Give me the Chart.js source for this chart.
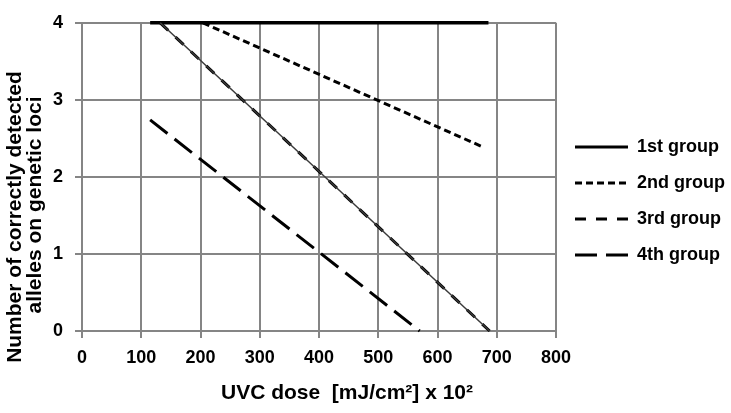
<!DOCTYPE html>
<html lang="en">
<head>
  <meta charset="UTF-8">
  <title>UVC dose vs detected alleles</title>
  <script src="https://cdn.jsdelivr.net/npm/chart.js"></script>
  <style>
    body {
      margin: 0;
      background: #fff;
    }
    #chart {
      display: block;
    }
  </style>
</head>
<body>
  <canvas id="chart" width="731" height="413"></canvas>

  <script>
    // Values (dose in mJ/cm2 x 10^2, number of alleles)
    const groupNames = ['1st group', '2nd group', '3rd group', '4th group'];
    const group1Dose = [115, 686];
    const group1Alleles = [4, 4];
    const group2Dose = [204, 679];
    const group2Alleles = [4, 2.38];
    const group3Dose = [132, 688];
    const group3Alleles = [4, 0];
    const group4Dose = [115, 570];
    const group4Alleles = [2.74, 0];

    const xTicks = [0, 100, 200, 300, 400, 500, 600, 700, 800];
    const yTicks = [0, 1, 2, 3, 4];

    const xTitle = 'UVC dose  [mJ/cm\u00B2] x 10\u00B2';
    const yTitle = ['Number of correctly detected', 'alleles on genetic loci'];

    const gridColor = '#858585';
    const fontFamily = 'Arial, "Liberation Sans", sans-serif';

    function toPoints(xs, ys) {
      return xs.map((x, i) => ({ x: x, y: ys[i] }));
    }

    // Legend + axis titles drawn by hand to sit where the original puts them
    const decorations = {
      id: 'decorations',
      afterDraw(chart) {
        const ctx = chart.ctx;
        ctx.save();
        ctx.fillStyle = '#000';
        ctx.textBaseline = 'middle';
        ctx.textAlign = 'center';

        // x axis title
        ctx.font = 'bold 21px ' + fontFamily;
        ctx.fillText(xTitle, 347, 393);

        // y axis title, two lines rotated
        ctx.save();
        ctx.translate(15, 217);
        ctx.rotate(-Math.PI / 2);
        ctx.fillText(yTitle[0], 0, 0);
        ctx.restore();
        ctx.save();
        ctx.translate(35, 205);
        ctx.rotate(-Math.PI / 2);
        ctx.fillText(yTitle[1], 0, 0);
        ctx.restore();

        // legend
        const rows = [147, 183, 219, 255];
        let row = 0;
        chart.data.datasets.forEach(ds => {
          if (!ds.inLegend) return;
          const y = rows[row++];
          ctx.beginPath();
          ctx.strokeStyle = ds.borderColor;
          ctx.lineWidth = 3;
          ctx.setLineDash(ds.borderDash || []);
          ctx.moveTo(575, y);
          ctx.lineTo(628, y);
          ctx.stroke();
          ctx.setLineDash([]);
          ctx.textAlign = 'left';
          ctx.font = 'bold 18px ' + fontFamily;
          ctx.fillText(ds.label, 637, y);
        });
        ctx.restore();
      }
    };

    const chart = new Chart(document.getElementById('chart'), {
      type: 'line',
      data: {
        datasets: [
          {
            label: groupNames[2] + ' trend',
            data: toPoints(group3Dose, group3Alleles),
            borderColor: '#3a3a3a',
            borderWidth: 1.5,
            inLegend: false
          },
          {
            label: groupNames[0],
            data: toPoints(group1Dose, group1Alleles),
            borderColor: '#000',
            borderWidth: 3.5,
            inLegend: true
          },
          {
            label: groupNames[1],
            data: toPoints(group2Dose, group2Alleles),
            borderColor: '#000',
            borderWidth: 3,
            borderDash: [7, 4],
            inLegend: true
          },
          {
            label: groupNames[2],
            data: toPoints(group3Dose, group3Alleles),
            borderColor: '#000',
            borderWidth: 3,
            borderDash: [11, 10],
            inLegend: true
          },
          {
            label: groupNames[3],
            data: toPoints(group4Dose, group4Alleles),
            borderColor: '#000',
            borderWidth: 3,
            borderDash: [22, 9],
            inLegend: true
          }
        ]
      },
      options: {
        responsive: false,
        animation: false,
        clip: false,
        elements: {
          point: { radius: 0 },
          line: { tension: 0, borderCapStyle: 'butt' }
        },
        layout: {
          padding: { left: 0, right: 175, top: 13, bottom: 0 }
        },
        plugins: {
          legend: { display: false },
          tooltip: { enabled: false }
        },
        scales: {
          x: {
            type: 'linear',
            min: 0,
            max: 800,
            afterBuildTicks: axis => { axis.ticks = xTicks.map(v => ({ value: v })); },
            afterFit: axis => { axis.height = 82; },
            grid: {
              color: gridColor,
              lineWidth: 2,
              tickLength: 7
            },
            border: { color: gridColor, width: 2 },
            ticks: {
              color: '#000',
              padding: 9,
              maxRotation: 0,
              font: { family: fontFamily, size: 18, weight: 'bold' }
            }
          },
          y: {
            min: 0,
            max: 4,
            afterBuildTicks: axis => { axis.ticks = yTicks.map(v => ({ value: v })); },
            afterFit: axis => { axis.width = 82; },
            grid: {
              color: gridColor,
              lineWidth: 2,
              tickLength: 7
            },
            border: { color: gridColor, width: 2 },
            ticks: {
              color: '#000',
              padding: 12,
              font: { family: fontFamily, size: 18, weight: 'bold' }
            }
          }
        }
      },
      plugins: [decorations]
    });
  </script>
</body>
</html>
